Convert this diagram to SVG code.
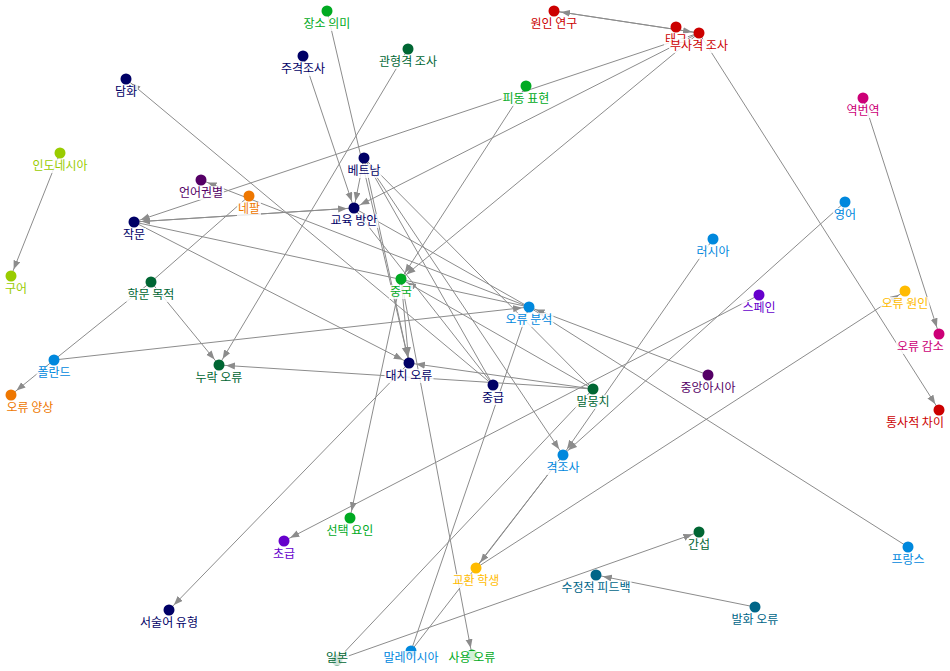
<svg xmlns="http://www.w3.org/2000/svg" width="950" height="671" viewBox="0 0 950 671">
<style>
.e{stroke:#8c8c8c;stroke-width:1;fill:none;marker-end:url(#arr)}
.u{stroke:#8c8c8c;stroke-width:1;fill:none}
.bg{fill:#fff;fill-opacity:0.82}
text{font-family:"Noto Sans CJK KR","Noto Sans",sans-serif;font-size:12px;text-anchor:middle}
.c1{fill:#000066}.c2{fill:#00aa22}.c3{fill:#006633}.c4{fill:#cc0000}.c5{fill:#cc0077}.c6{fill:#99cc00}
.c7{fill:#550066}.c8{fill:#ee7700}.c9{fill:#0088dd}.c10{fill:#6600cc}.c11{fill:#ffbb00}.c12{fill:#006688}
</style>
<defs>
<marker id="arr" markerUnits="userSpaceOnUse" markerWidth="10" markerHeight="8" refX="16" refY="3.5" orient="auto">
<path d="M0,0L9,3.5L0,7z" fill="#8c8c8c"/>
</marker>
</defs>
<rect width="950" height="671" fill="#fff"/>
<g id="edges">
<line class="e" x1="699" y1="33" x2="554" y2="11"/>
<line class="e" x1="554" y1="11" x2="699" y2="33"/>
<line class="e" x1="699" y1="33" x2="134" y2="222"/>
<line class="e" x1="699" y1="33" x2="354" y2="208"/>
<line class="e" x1="699" y1="33" x2="401" y2="279"/>
<line class="e" x1="699" y1="33" x2="939" y2="410"/>
<line class="e" x1="526" y1="86" x2="401" y2="279"/>
<line class="e" x1="303" y1="56" x2="354" y2="208"/>
<line class="e" x1="364" y1="158" x2="354" y2="208"/>
<line class="e" x1="134" y1="222" x2="354" y2="208"/>
<line class="e" x1="354" y1="208" x2="134" y2="222"/>
<line class="e" x1="327" y1="11" x2="409" y2="363"/>
<line class="e" x1="408" y1="49" x2="219" y2="365"/>
<line class="e" x1="493" y1="385" x2="126" y2="79"/>
<line class="e" x1="60" y1="153" x2="11" y2="276"/>
<line class="e" x1="54" y1="360" x2="11" y2="395"/>
<line class="e" x1="151" y1="282" x2="219" y2="365"/>
<line class="u" x1="151" y1="282" x2="249" y2="196"/>
<line class="u" x1="151" y1="282" x2="54" y2="360"/>
<line class="e" x1="54" y1="360" x2="529" y2="307"/>
<line class="e" x1="593" y1="389" x2="219" y2="365"/>
<line class="e" x1="593" y1="389" x2="409" y2="363"/>
<line class="e" x1="134" y1="222" x2="409" y2="363"/>
<line class="u" x1="134" y1="222" x2="529" y2="307"/>
<line class="e" x1="529" y1="307" x2="201" y2="180"/>
<line class="e" x1="708" y1="375" x2="529" y2="307"/>
<line class="u" x1="529" y1="307" x2="908" y2="547"/>
<line class="e" x1="845" y1="202" x2="563" y2="455"/>
<line class="e" x1="713" y1="239" x2="563" y2="455"/>
<line class="e" x1="364" y1="158" x2="563" y2="455"/>
<line class="e" x1="409" y1="363" x2="169" y2="610"/>
<line class="e" x1="401" y1="279" x2="350" y2="518"/>
<line class="e" x1="401" y1="279" x2="409" y2="363"/>
<line class="e" x1="401" y1="279" x2="472" y2="655"/>
<line class="e" x1="863" y1="98" x2="939" y2="334"/>
<line class="e" x1="476" y1="568" x2="905" y2="291"/>
<line class="e" x1="759" y1="295" x2="284" y2="541"/>
<line class="e" x1="563" y1="455" x2="476" y2="568"/>
<line class="u" x1="411" y1="651" x2="563" y2="455"/>
<line class="u" x1="529" y1="307" x2="411" y2="651"/>
<line class="e" x1="337" y1="660" x2="699" y2="532"/>
<line class="u" x1="337" y1="660" x2="593" y2="389"/>
<line class="e" x1="755" y1="607" x2="596" y2="575"/>
<line class="u" x1="364" y1="158" x2="493" y2="385"/>
<line class="e" x1="493" y1="385" x2="354" y2="208"/>
<line class="u" x1="364" y1="158" x2="593" y2="389"/>
<line class="e" x1="364" y1="158" x2="409" y2="363"/>
<line class="u" x1="354" y1="208" x2="529" y2="307"/>
<line class="e" x1="593" y1="389" x2="401" y2="279"/>
</g>
<g id="jangso"><circle class="c2" cx="327" cy="11" r="5.5"/><rect class="bg" x="302.5" y="17" width="49" height="14"/><text class="c2" x="327" y="28">장소 의미</text></g>
<g id="jugyeok"><circle class="c1" cx="303" cy="56" r="5.5"/><rect class="bg" x="280" y="62" width="46" height="14"/><text class="c1" x="303" y="73">주격조사</text></g>
<g id="gwanhyeong"><circle class="c3" cx="408" cy="49" r="5.5"/><rect class="bg" x="378" y="55" width="60" height="14"/><text class="c3" x="408" y="66">관형격 조사</text></g>
<g id="wonin"><circle class="c4" cx="554" cy="11" r="5.5"/><rect class="bg" x="529.5" y="17" width="49" height="14"/><text class="c4" x="554" y="28">원인 연구</text></g>
<g id="tag"><circle class="c4" cx="676" cy="27" r="5.5"/><rect class="bg" x="664" y="33" width="24" height="14"/><text class="c4" x="676" y="44">태그</text></g>
<g id="busa"><circle class="c4" cx="699" cy="33" r="5.5"/><rect class="bg" x="669" y="39" width="60" height="14"/><text class="c4" x="699" y="50">부사격 조사</text></g>
<g id="pidong"><circle class="c2" cx="526" cy="86" r="5.5"/><rect class="bg" x="501.5" y="92" width="49" height="14"/><text class="c2" x="526" y="103">피동 표현</text></g>
<g id="damhwa"><circle class="c1" cx="126" cy="79" r="5.5"/><rect class="bg" x="114" y="85" width="24" height="14"/><text class="c1" x="126" y="96">담화</text></g>
<g id="yeokbeon"><circle class="c5" cx="863" cy="98" r="5.5"/><rect class="bg" x="845.5" y="104" width="35" height="14"/><text class="c5" x="863" y="115">역번역</text></g>
<g id="indonesia"><circle class="c6" cx="60" cy="153" r="5.5"/><rect class="bg" x="31.5" y="159" width="57" height="14"/><text class="c6" x="60" y="170">인도네시아</text></g>
<g id="vietnam"><circle class="c1" cx="364" cy="158" r="5.5"/><rect class="bg" x="346.5" y="164" width="35" height="14"/><text class="c1" x="364" y="175">베트남</text></g>
<g id="eoneo"><circle class="c7" cx="201" cy="180" r="5.5"/><rect class="bg" x="178" y="186" width="46" height="14"/><text class="c7" x="201" y="197">언어권별</text></g>
<g id="nepal"><circle class="c8" cx="249" cy="196" r="5.5"/><rect class="bg" x="237" y="202" width="24" height="14"/><text class="c8" x="249" y="213">네팔</text></g>
<g id="jakmun"><circle class="c1" cx="134" cy="222" r="5.5"/><rect class="bg" x="122" y="228" width="24" height="14"/><text class="c1" x="134" y="239">작문</text></g>
<g id="gyoyuk"><circle class="c1" cx="354" cy="208" r="5.5"/><rect class="bg" x="329.5" y="214" width="49" height="14"/><text class="c1" x="354" y="225">교육 방안</text></g>
<g id="english"><circle class="c9" cx="845" cy="202" r="5.5"/><rect class="bg" x="833" y="208" width="24" height="14"/><text class="c9" x="845" y="219">영어</text></g>
<g id="russia"><circle class="c9" cx="713" cy="239" r="5.5"/><rect class="bg" x="695.5" y="245" width="35" height="14"/><text class="c9" x="713" y="256">러시아</text></g>
<g id="gueo"><circle class="c6" cx="11" cy="276" r="5.5"/><rect class="bg" x="4" y="282" width="24" height="14"/><text class="c6" x="16" y="293">구어</text></g>
<g id="china"><circle class="c2" cx="401" cy="279" r="5.5"/><rect class="bg" x="389" y="285" width="24" height="14"/><text class="c2" x="401" y="296">중국</text></g>
<g id="hakmun"><circle class="c3" cx="151" cy="282" r="5.5"/><rect class="bg" x="126.5" y="288" width="49" height="14"/><text class="c3" x="151" y="299">학문 목적</text></g>
<g id="spain"><circle class="c10" cx="759" cy="295" r="5.5"/><rect class="bg" x="741.5" y="301" width="35" height="14"/><text class="c10" x="759" y="312">스페인</text></g>
<g id="errcause"><circle class="c11" cx="905" cy="291" r="5.5"/><rect class="bg" x="880.5" y="297" width="49" height="14"/><text class="c11" x="905" y="308">오류 원인</text></g>
<g id="erranal"><circle class="c9" cx="529" cy="307" r="5.5"/><rect class="bg" x="504.5" y="313" width="49" height="14"/><text class="c9" x="529" y="324">오류 분석</text></g>
<g id="errred"><circle class="c5" cx="939" cy="334" r="5.5"/><rect class="bg" x="896" y="340" width="49" height="14"/><text class="c5" x="920.5" y="351">오류 감소</text></g>
<g id="poland"><circle class="c9" cx="54" cy="360" r="5.5"/><rect class="bg" x="36.5" y="366" width="35" height="14"/><text class="c9" x="54" y="377">폴란드</text></g>
<g id="nurak"><circle class="c3" cx="219" cy="365" r="5.5"/><rect class="bg" x="194.5" y="371" width="49" height="14"/><text class="c3" x="219" y="382">누락 오류</text></g>
<g id="daechi"><circle class="c1" cx="409" cy="363" r="5.5"/><rect class="bg" x="384.5" y="369" width="49" height="14"/><text class="c1" x="409" y="380">대치 오류</text></g>
<g id="centralasia"><circle class="c7" cx="708" cy="375" r="5.5"/><rect class="bg" x="679.5" y="381" width="57" height="14"/><text class="c7" x="708" y="392">중앙아시아</text></g>
<g id="junggeup"><circle class="c1" cx="493" cy="385" r="5.5"/><rect class="bg" x="481" y="391" width="24" height="14"/><text class="c1" x="493" y="402">중급</text></g>
<g id="corpus"><circle class="c3" cx="593" cy="389" r="5.5"/><rect class="bg" x="575.5" y="395" width="35" height="14"/><text class="c3" x="593" y="406">말뭉치</text></g>
<g id="errpattern"><circle class="c8" cx="11" cy="395" r="5.5"/><rect class="bg" x="5.5" y="401" width="49" height="14"/><text class="c8" x="30" y="412">오류 양상</text></g>
<g id="syntax"><circle class="c4" cx="939" cy="410" r="5.5"/><rect class="bg" x="885" y="416" width="60" height="14"/><text class="c4" x="915" y="427">통사적 차이</text></g>
<g id="gyeokjosa"><circle class="c9" cx="563" cy="455" r="5.5"/><rect class="bg" x="545.5" y="461" width="35" height="14"/><text class="c9" x="563" y="472">격조사</text></g>
<g id="seontaek"><circle class="c2" cx="350" cy="518" r="5.5"/><rect class="bg" x="325.5" y="524" width="49" height="14"/><text class="c2" x="350" y="535">선택 요인</text></g>
<g id="chogeup"><circle class="c10" cx="284" cy="541" r="5.5"/><rect class="bg" x="272" y="547" width="24" height="14"/><text class="c10" x="284" y="558">초급</text></g>
<g id="interference"><circle class="c3" cx="699" cy="532" r="5.5"/><rect class="bg" x="687" y="538" width="24" height="14"/><text class="c3" x="699" y="549">간섭</text></g>
<g id="france"><circle class="c9" cx="908" cy="547" r="5.5"/><rect class="bg" x="890.5" y="553" width="35" height="14"/><text class="c9" x="908" y="564">프랑스</text></g>
<g id="exchange"><circle class="c11" cx="476" cy="568" r="5.5"/><rect class="bg" x="451.5" y="574" width="49" height="14"/><text class="c11" x="476" y="585">교환 학생</text></g>
<g id="feedback"><circle class="c12" cx="596" cy="575" r="5.5"/><rect class="bg" x="560.5" y="581" width="71" height="14"/><text class="c12" x="596" y="592">수정적 피드백</text></g>
<g id="speecherr"><circle class="c12" cx="755" cy="607" r="5.5"/><rect class="bg" x="730.5" y="613" width="49" height="14"/><text class="c12" x="755" y="624">발화 오류</text></g>
<g id="predicate"><circle class="c1" cx="169" cy="610" r="5.5"/><rect class="bg" x="139" y="616" width="60" height="14"/><text class="c1" x="169" y="627">서술어 유형</text></g>
<g id="japan"><circle class="c3" cx="337" cy="660" r="5.5"/><rect class="bg" x="325" y="651" width="24" height="14"/><text class="c3" x="337" y="662">일본</text></g>
<g id="malaysia"><circle class="c9" cx="411" cy="651" r="5.5"/><rect class="bg" x="382.5" y="651" width="57" height="14"/><text class="c9" x="411" y="662">말레이시아</text></g>
<g id="usage"><circle class="c2" cx="472" cy="655" r="5.5"/><rect class="bg" x="447.5" y="651" width="49" height="14"/><text class="c2" x="472" y="662">사용 오류</text></g>
</svg>
